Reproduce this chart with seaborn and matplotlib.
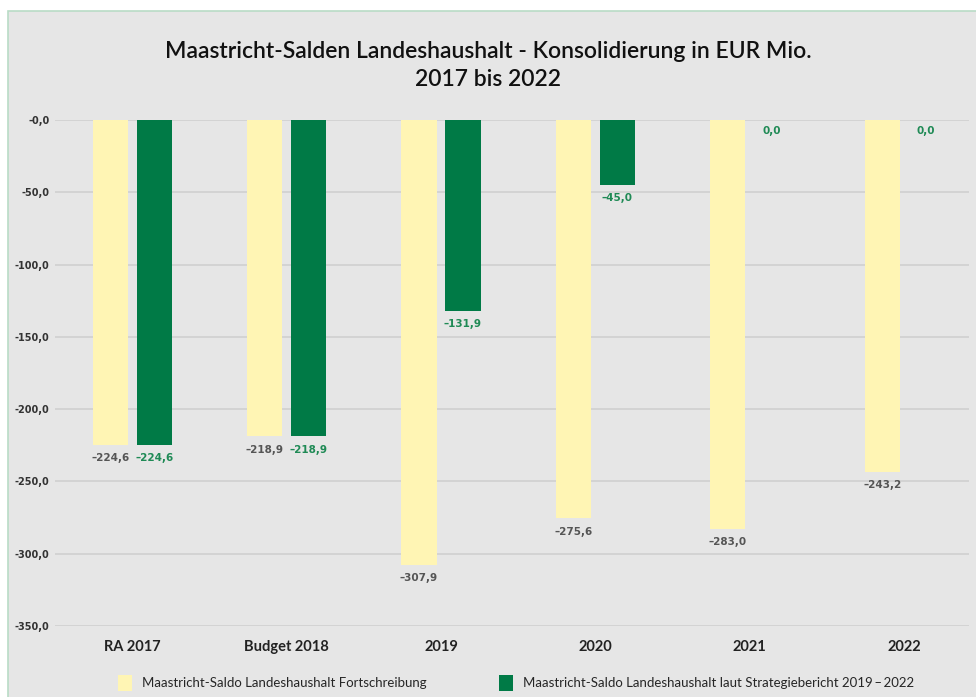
import pandas as pd
import seaborn as sns
import matplotlib.pyplot as plt
from matplotlib.patches import Rectangle, Patch

sns.set_theme(style="white")
plt.rcParams['font.family'] = ['Lato', 'DejaVu Sans']

# data
categories = ["RA 2017", "Budget 2018", "2019", "2020", "2021", "2022"]
fortschreibung = [-224.6, -218.9, -307.9, -275.6, -283.0, -243.2]
strategie = [-224.6, -218.9, -131.9, -45.0, 0.0, 0.0]
series_names = ["Maastricht-Saldo Landeshaushalt Fortschreibung",
                "Maastricht-Saldo Landeshaushalt laut Strategiebericht 2019\u2009\u2013\u20092022"]
y_ticks = [0, -50, -100, -150, -200, -250, -300, -350]

YELLOW = "#fff5b4"
GREEN = "#007a46"
BG = "#e6e6e6"

df = pd.DataFrame({
    "Kategorie": categories * 2,
    "Wert": fortschreibung + strategie,
    "Serie": [series_names[0]] * len(categories) + [series_names[1]] * len(categories),
})

fig = plt.figure(figsize=(9.76, 6.97), dpi=100, facecolor="white")
# gray panel with thin green border
fig.patches.append(Rectangle((8 / 976, -0.01), 1.0, (697 - 11) / 697 + 0.01,
                             transform=fig.transFigure, facecolor=BG,
                             edgecolor="#b9dcc6", linewidth=1.2, zorder=-5))

ax = fig.add_axes([55 / 976, 71 / 697, (969 - 55) / 976, 506 / 697])
ax.set_facecolor(BG)

sns.barplot(data=df, x="Kategorie", y="Wert", hue="Serie",
            palette=[YELLOW, GREEN], saturation=1, width=0.57, gap=0.2,
            linewidth=0, ax=ax, legend=False, zorder=3)

ax.set_ylim(-350, 0)
ax.set_xlim(-0.5, 5.42)
ax.set_yticks(y_ticks)
ax.set_yticklabels(["-" + f"{abs(v):.1f}".replace(".", ",") for v in y_ticks],
                   fontsize=7, fontweight="bold", color="#333333",
                   family=["DejaVu Sans"])
ax.tick_params(axis="y", length=0, pad=4)
ax.tick_params(axis="x", length=0, pad=10)
for lbl in ax.get_xticklabels():
    lbl.set_fontsize(10.5)
    lbl.set_fontweight("bold")
    lbl.set_color("#222222")
ax.grid(axis="y", color="#d0d0d0", linewidth=1.2, zorder=0)
ax.set_axisbelow(True)
for s in ax.spines.values():
    s.set_visible(False)
ax.set_xlabel("")
ax.set_ylabel("")


def fmt(v):
    return ("\u2013" if v < 0 else "") + f"{abs(v):.1f}".replace(".", ",")


# value labels below bars (zero values also go below the zero line)
for container, color in zip(ax.containers, ["#555555", "#1f8a55"]):
    for bar, v in zip(container, container.datavalues):
        ax.annotate(fmt(v), (bar.get_x() + bar.get_width() / 2, v),
                    xytext=(0, -6 if v < 0 else -4), textcoords="offset points",
                    ha="center", va="top", fontsize=7.5, fontweight="bold",
                    color=color, family=["DejaVu Sans"])

fig.text(0.5, 0.906, "Maastricht-Salden Landeshaushalt - Konsolidierung in EUR Mio.\n2017 bis 2022",
         ha="center", va="center", fontsize=16.5, fontweight="semibold",
         color="#111111", linespacing=1.4)

handles = [Patch(facecolor=YELLOW, edgecolor="none"), Patch(facecolor=GREEN, edgecolor="none")]
fig.legend(handles, series_names, loc="center", bbox_to_anchor=(0.529, 0.02),
           ncol=2, frameon=False, fontsize=9.5, handlelength=1.0, handleheight=1.4,
           columnspacing=5.5, handletextpad=0.8)

fig.savefig("out.png", dpi=100, facecolor="white")
